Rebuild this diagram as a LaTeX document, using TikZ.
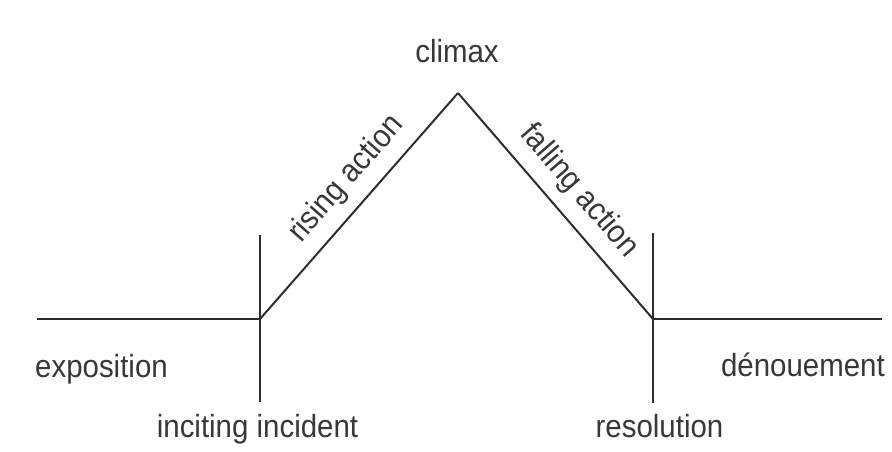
\documentclass[tikz,border=0pt]{standalone}
\usepackage{fontspec}
\setmainfont[FakeStretch=0.92]{Liberation Sans}
\begin{document}
\begin{tikzpicture}[x=1pt,y=1pt,
  plotline/.style={line width=2pt, draw=black!82},
  lbl/.style={text=black!78, inner sep=0pt, font=\fontsize{32}{38}\selectfont}]
\useasboundingbox[fill=white] (0,0) rectangle (892,452);
% key points
\coordinate (L) at (37,133);
\coordinate (A) at (260,133);
\coordinate (At) at (260,217);
\coordinate (Ab) at (260,50);
\coordinate (P) at (458,359);
\coordinate (R) at (653,133);
\coordinate (Rt) at (653,219);
\coordinate (Rb) at (653,49);
\coordinate (E) at (882,133);
% lines
\draw[plotline] (L) -- (A);
\draw[plotline] (At) -- (Ab);
\draw[plotline] (A) -- node[lbl, sloped, pos=0.54, above=11pt] (rise) {rising action} (P);
\draw[plotline] (P) -- node[lbl, sloped, pos=0.514, above=11.5pt] (fall) {falling action} (R);
\draw[plotline] (Rt) -- (Rb);
\draw[plotline] (R) -- (E);
% labels
\node[lbl, anchor=base] (climax) at (457,389) {climax};
\node[lbl, anchor=base west] (expo) at (35,74) {exposition};
\node[lbl, anchor=base east] (denoue) at (885,75) {dénouement};
\node[lbl, anchor=base] (incite) at (257.5,14) {inciting incident};
\node[lbl, anchor=base] (resol) at (659.5,14) {resolution};
\end{tikzpicture}
\end{document}
